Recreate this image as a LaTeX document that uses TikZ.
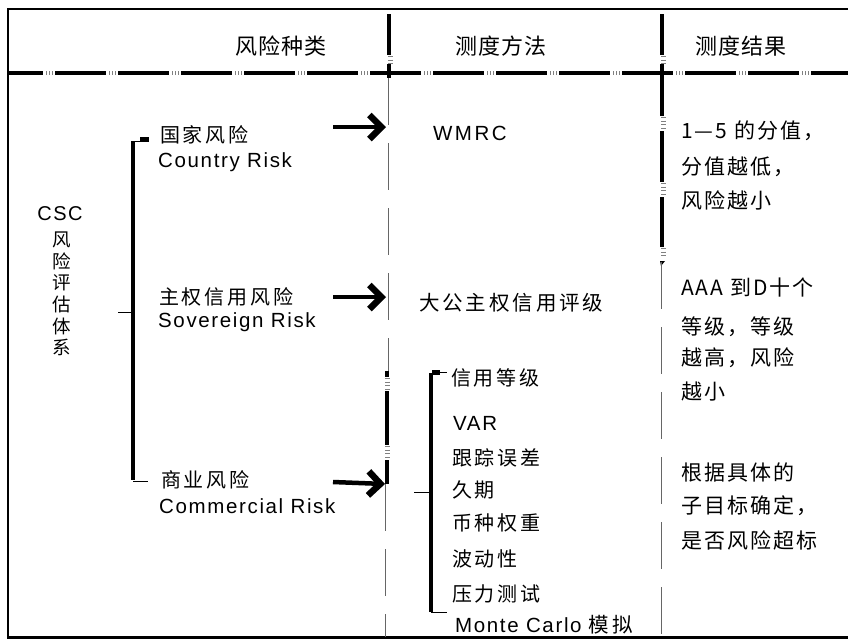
\documentclass[tikz,border=0pt]{standalone}
\usepackage{fontspec}
\setmainfont{Liberation Sans}
\newfontfamily\cjkH[LetterSpace=5]{Noto Sans CJK SC}
\newfontfamily\cjkA[LetterSpace=14]{Noto Sans CJK SC}
\newfontfamily\cjkC[LetterSpace=10]{Noto Sans CJK SC}
\newfontfamily\cjkV{Noto Sans CJK SC}
\newfontfamily\latA[LetterSpace=8]{Liberation Sans}
\newfontfamily\latW[LetterSpace=12]{Liberation Sans}
\usetikzlibrary{arrows.meta}
\begin{document}
\begin{tikzpicture}[x=1pt,y=-1pt,
  thk/.style={line width=4pt, line cap=butt},
  thn/.style={line width=0.9pt, black!60, dash pattern=on 47pt off 18pt},
  tks/.style={line width=5pt, black!50, dash pattern=on 0.7pt off 3pt, line cap=butt},
  hd/.style={font=\cjkH\fontsize{22}{26}\selectfont, inner sep=0pt, anchor=center},
  cj/.style={font=\cjkA\fontsize{20}{24}\selectfont, inner sep=0pt, anchor=west},
  rc/.style={font=\cjkC\fontsize{21}{24}\selectfont, inner sep=0pt, anchor=west},
  la/.style={font=\latA\fontsize{20.5}{24}\selectfont, inner sep=0pt, anchor=base west},
  arr/.style={line width=4.5pt, -{Straight Barb[length=12pt,width=24pt,line width=6.5pt]}},
  brc/.style={line width=3.5pt, line cap=butt},
  tin/.style={line width=0.8pt}
]
\useasboundingbox (0,0) rectangle (848,641);
% frame
\draw[line width=2pt] (848,9) -- (8,9) -- (8,637);
\draw[line width=3pt] (7,637) -- (848,637);
% header separator
\draw[line width=4.5pt, dash pattern=on 51pt off 12pt, dash phase=16pt] (8,73) -- (848,73);
\draw[line width=4pt, black!50, dash pattern=on 0.7pt off 2.3pt on 0.7pt off 2.3pt on 0.7pt off 56.3pt] (46,73) -- (848,73);
% column line 1
\draw[thk] (389,14) -- (389,55);
\draw[tks] (390,56) -- (390,64);
\draw[thk] (389,64) -- (389,78);
\draw[thn] (388.5,78) -- (388.5,372);
\fill (384.5,371) rectangle (388.5,377);
\draw[tks] (387.5,378) -- (387.5,390);
\draw[thk] (386.5,391) -- (386.5,445);
\draw[tks] (387.5,446) -- (387.5,459);
\draw[thk] (386.5,460) -- (386.5,484);
\draw[thn] (385.5,484) -- (385.5,637);
% column line 2
\draw[thk] (662,14) -- (662,55);
\draw[tks] (663,56) -- (663,64);
\draw[thk] (662,64) -- (662,116);
\draw[tks] (663,117) -- (663,130);
\draw[thk] (662,131) -- (662,182);
\draw[tks] (663,183) -- (663,195);
\draw[thk] (662,197) -- (662,247);
\draw[tks] (663,248) -- (663,259);
\fill (660,261) -- (665,261) -- (661,266) -- cycle;
\draw[thn] (661,262) -- (661,637);
% headers
\node[hd] (h1) at (281,46) {风险种类};
\node[hd] (h2) at (501,46) {测度方法};
\node[hd] (h3) at (741,46) {测度结果};
% left title
\node[font=\latA\fontsize{20}{24}\selectfont, inner sep=0pt, anchor=base] (csc) at (60,220) {CSC};
\node[font=\cjkV\fontsize{18.5}{21.6}\selectfont, inner sep=0pt, align=center, anchor=center] (sys) at (62,294) {风\\险\\评\\估\\体\\系};
% main brace
\draw[brc] (133,141) -- (133,480);
\draw[tin] (131,141) -- (140,141);
\fill (140,137) rectangle (149,142);
\draw[tin] (118,312) -- (131,312);
\draw[tin] (133,481) -- (148,481);
% risk types
\node[cj] (c1) at (160,135) {国家风险};
\node[la] (e1) at (158,167) {Country Risk};
\node[cj] (c2) at (159,297) {主权信用风险};
\node[la] (e2) at (158,327) {Sovereign Risk};
\node[cj] (c3) at (161,480) {商业风险};
\node[la] (e3) at (159,513) {Commercial Risk};
% arrows
\coordinate (a1s) at (333,127); \coordinate (a1e) at (386,127);
\coordinate (a2s) at (333,297); \coordinate (a2e) at (386,297);
\coordinate (a3s) at (333,482); \coordinate (a3e) at (385,484);
\draw[arr] (a1s) -- (a1e);
\draw[arr] (a2s) -- (a2e);
\draw[arr] (a3s) -- (a3e);
% methods
\node[font=\latW\fontsize{20.5}{24}\selectfont, inner sep=0pt, anchor=base west] (m1) at (433,140) {WMRC};
\node[font=\cjkA\fontsize{20.5}{24}\selectfont, inner sep=0pt, anchor=west] (m2) at (419,303) {大公主权信用评级};
% sub brace
\draw[line width=4pt, line cap=butt] (431,373) -- (431,612);
\fill (432,370) rectangle (440,375);
\draw[tin] (440,372.5) -- (447,372.5);
\draw[tin] (414,492) -- (430,492);
\draw[tin] (431,612) -- (447,612);
\node[cj] (i1) at (451,378) {信用等级};
\node[la] (i2) at (453,430) {VAR};
\node[cj] (i3) at (452,458) {跟踪误差};
\node[cj] (i4) at (452,490) {久期};
\node[cj] (i5) at (452,523) {币种权重};
\node[cj] (i6) at (452,559) {波动性};
\node[cj] (i7) at (452,594) {压力测试};
\node[la] (i8) at (455,632) {Monte Carlo {\cjkA 模拟}};
% results
\node[rc] (r1) at (681,131) {1—5 的分值，};
\node[rc] (r2) at (681,167) {分值越低，};
\node[rc] (r3) at (681,200) {风险越小};
\node[rc] (r4) at (681,288) {AAA 到D十个};
\node[rc] (r5) at (681,327) {等级，等级};
\node[rc] (r6) at (681,358) {越高，风险};
\node[rc] (r7) at (681,392) {越小};
\node[rc] (r8) at (681,472) {根据具体的};
\node[rc] (r9) at (681,506) {子目标确定，};
\node[rc] (r10) at (681,540) {是否风险超标};
\end{tikzpicture}
\end{document}
